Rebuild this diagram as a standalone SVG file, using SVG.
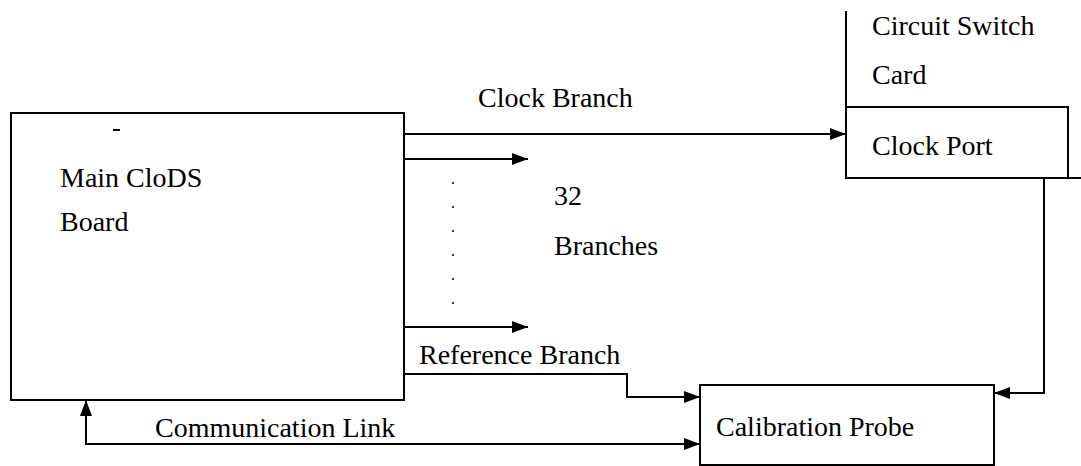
<svg xmlns="http://www.w3.org/2000/svg" width="1081" height="466" viewBox="0 0 1081 466">
<style>
.box{fill:none;stroke:#000;stroke-width:2}
.ln{fill:none;stroke:#000;stroke-width:2}
.t{font-family:"Liberation Serif","Times New Roman",serif;font-size:28px;fill:#000}
.dot{fill:#000}
</style>
<defs>
<marker id="ah" viewBox="0 0 16 12" refX="16" refY="6" markerWidth="16" markerHeight="12" markerUnits="userSpaceOnUse" orient="auto">
<path d="M0,0 L16,6 L0,12 Z" fill="#000"/>
</marker>
</defs>
<rect width="1081" height="466" fill="#fff"/>
<g id="main-board">
<rect class="box" x="11" y="113" width="393" height="287"/>
<line class="ln" x1="113" y1="130" x2="120" y2="130" stroke-width="1.5"/>
<text class="t" x="60" y="187">Main CloDS</text>
<text class="t" x="60" y="231">Board</text>
</g>
<g id="circuit-switch-card">
<polyline class="ln" points="846,11 846,178"/>
<text class="t" x="872" y="35">Circuit Switch</text>
<text class="t" x="872" y="84">Card</text>
</g>
<g id="clock-port">
<rect class="box" x="846" y="107" width="222" height="71"/>
<line class="ln" x1="1068" y1="178" x2="1081" y2="178"/>
<text class="t" x="872" y="155">Clock Port</text>
</g>
<g id="calibration-probe">
<rect class="box" x="700" y="385" width="294" height="80"/>
<text class="t" x="716" y="436">Calibration Probe</text>
</g>
<g id="branches-label">
<text class="t" x="554" y="205">32</text>
<text class="t" x="554" y="255">Branches</text>
<circle class="dot" cx="453" cy="183" r="1"/>
<circle class="dot" cx="453" cy="207" r="1"/>
<circle class="dot" cx="453" cy="231" r="1"/>
<circle class="dot" cx="453" cy="255" r="1"/>
<circle class="dot" cx="453" cy="279" r="1"/>
<circle class="dot" cx="453" cy="303" r="1"/>
</g>
<g id="connectors">
<line class="ln" x1="404" y1="134" x2="846" y2="134" marker-end="url(#ah)"/>
<line class="ln" x1="404" y1="159" x2="528" y2="159" marker-end="url(#ah)"/>
<line class="ln" x1="404" y1="327" x2="528" y2="327" marker-end="url(#ah)"/>
<polyline class="ln" points="404,374 627,374 627,397 700,397" marker-end="url(#ah)"/>
<polyline class="ln" points="1044,178 1044,393 994,393" marker-end="url(#ah)"/>
<polyline class="ln" points="300,444 86,444 86,400" marker-end="url(#ah)"/>
<line class="ln" x1="300" y1="444" x2="700" y2="444" marker-end="url(#ah)"/>
<text class="t" x="478" y="107">Clock Branch</text>
<text class="t" x="419" y="364">Reference Branch</text>
<text class="t" x="155" y="437">Communication Link</text>
</g>
</svg>
